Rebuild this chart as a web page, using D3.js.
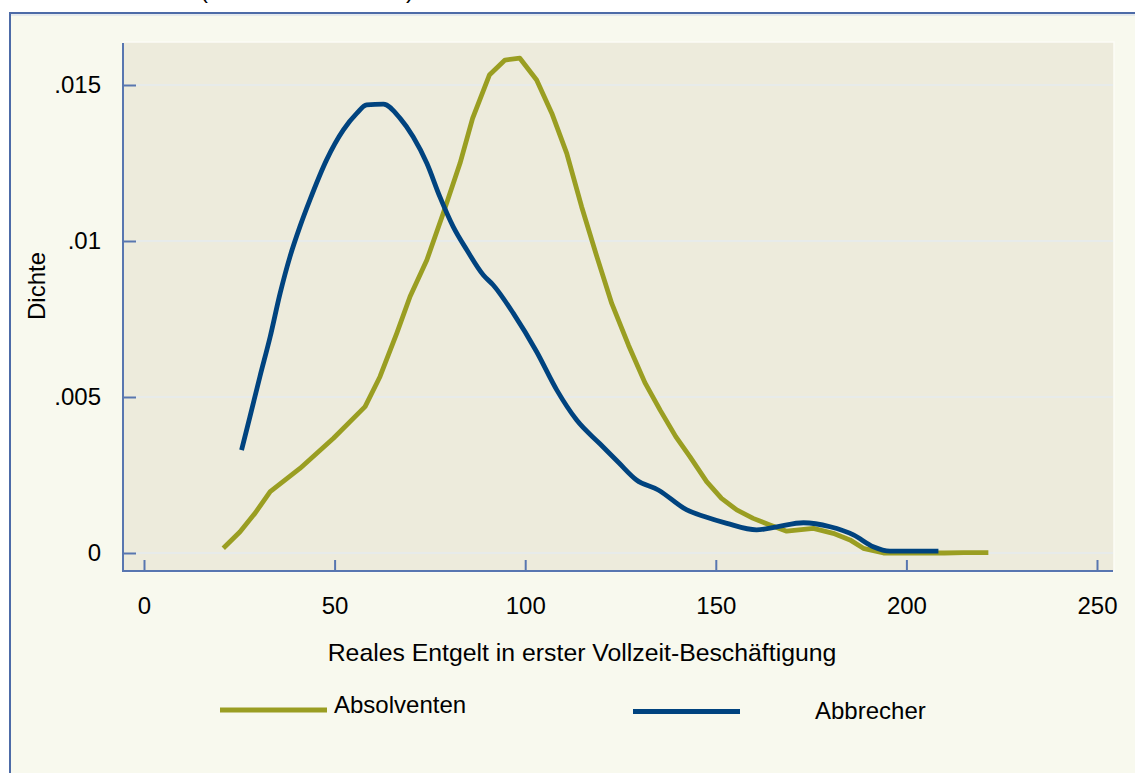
<!DOCTYPE html>
<html>
<head>
<meta charset="utf-8">
<script src="https://cdn.jsdelivr.net/npm/d3@7"></script>
<style>
  body { margin: 0; background: #ffffff; }
  svg { display: block; font-family: "Liberation Sans", Arial, sans-serif; }
</style>
</head>
<body>
<div class="chart"></div>
<script>
// density curves
var absolventenX = [20.8, 25.2, 29.1, 33.1, 40.9, 49.7, 58.0, 61.9, 66.3, 69.8, 74.2, 78.5, 82.9, 86.2, 90.6, 94.7, 98.6, 103.0, 107.0, 110.9, 114.8, 118.8, 122.7, 127.1, 131.4, 135.4, 139.5, 143.2, 147.6, 151.5, 155.5, 159.8, 164.2, 168.6, 175.6, 180.8, 185.2, 188.7, 194.0, 200, 210, 215, 221.5];
var absolventenY = [.00015, .00068, .00127, .00197, .00271, .00368, .00469, .00565, .00704, .00822, .00939, .01089, .01249, .01393, .01532, .0158, .01586, .01516, .01409, .01281, .0111, .0095, .008, .00666, .00546, .00458, .00373, .00309, .00229, .00175, .00138, .00111, .0009, .0007, .00079, .00063, .00042, .00015, 0, 0, 0, .00001, .00001];

var abbrecherX = [25.6, 27.8, 30.4, 33.1, 35.7, 38.3, 40.9, 43.5, 47.9, 52.3, 55.8, 58.4, 62.8, 67.2, 70.6, 74.2, 77.6, 81.1, 84.7, 89.0, 91.6, 96.9, 103.0, 108.3, 113.5, 119.6, 124.5, 129.2, 134.9, 142.4, 147.0, 152.9, 160.7, 166.0, 173.0, 180.0, 186.1, 191.3, 195.7, 208.4];
var abbrecherY = [.0033, .00437, .00565, .00693, .00832, .0095, .01046, .01131, .0126, .01356, .01409, .01436, .01439, .01393, .01334, .01249, .01142, .01046, .00971, .00891, .00859, .00768, .00645, .00522, .00426, .0035, .0029, .00234, .00202, .00138, .00117, .00095, .00074, .00084, .00097, .00084, .00058, .0002, .00006, .00006];

var xTicks = [0, 50, 100, 150, 200, 250];
var yTicks = [0, .005, .01, .015];
var yTickLabels = ["0", ".005", ".01", ".015"];

var seriesNames = ["Absolventen", "Abbrecher"];
var seriesColors = ["#9a9e22", "#00437f"];

var svgWidth = 1135, svgHeight = 773;
var axisColor = "#5876b0";

var svg = d3.select(".chart").append("svg")
    .attr("width", svgWidth)
    .attr("height", svgHeight);

// outer panel
svg.append("rect")
    .attr("x", 10).attr("y", 13)
    .attr("width", svgWidth - 10).attr("height", svgHeight - 13)
    .attr("fill", "#f8f9ee");
svg.append("line")
    .attr("x1", 10).attr("x2", svgWidth).attr("y1", 15).attr("y2", 15)
    .attr("stroke", "#e4e9ec").attr("stroke-width", 2);
svg.append("line")
    .attr("x1", 9).attr("x2", svgWidth).attr("y1", 13).attr("y2", 13)
    .attr("stroke", "#4d6ba7").attr("stroke-width", 2);
svg.append("line")
    .attr("x1", 10).attr("x2", 10).attr("y1", 12).attr("y2", svgHeight)
    .attr("stroke", "#4d6ba7").attr("stroke-width", 2);

// title, cut off at the very top as in the original
svg.append("text").attr("x", 200).attr("y", -2)
    .attr("font-size", 24).text("(");
svg.append("text").attr("x", 406).attr("y", -2)
    .attr("font-size", 24).text(")");

// plot area
var plot = { left: 123, right: 1113, top: 43, bottom: 572 };

svg.append("rect")
    .attr("x", plot.left).attr("y", plot.top - 1)
    .attr("width", plot.right - plot.left + 1).attr("height", plot.bottom - plot.top + 1)
    .attr("fill", "#edebdc")
    .attr("stroke", "#fbfcf6").attr("stroke-width", 1.5);

var x = d3.scaleLinear().domain([0, 250]).range([144, 1097]);
var y = d3.scaleLinear().domain([0, .015]).range([553, 85]);

// grid lines
svg.append("g").selectAll("line")
    .data(yTicks)
    .enter().append("line")
    .attr("x1", plot.left + 13).attr("x2", plot.right)
    .attr("y1", d => y(d)).attr("y2", d => y(d))
    .attr("stroke", "#e7ebea").attr("stroke-width", 2);

// y axis
var yAxis = d3.axisLeft(y).tickValues(yTicks)
    .tickSize(-13).tickPadding(22)
    .tickFormat((d, i) => yTickLabels[i]);
var yG = svg.append("g")
    .attr("transform", `translate(${plot.left}, 0)`)
    .call(yAxis);
yG.select(".domain").remove();
yG.selectAll("line").attr("stroke", axisColor).attr("stroke-width", 2);
yG.selectAll("text").attr("font-size", 24).attr("fill", "#000")
    .attr("font-family", "Liberation Sans, Arial, sans-serif");
svg.append("line")
    .attr("x1", plot.left).attr("x2", plot.left)
    .attr("y1", plot.top).attr("y2", plot.bottom)
    .attr("stroke", axisColor).attr("stroke-width", 2);

// x axis
var xAxis = d3.axisBottom(x).tickValues(xTicks)
    .tickSize(-11).tickPadding(26)
    .tickFormat(d3.format("d"));
var xG = svg.append("g")
    .attr("transform", `translate(0, ${plot.bottom - 1})`)
    .call(xAxis);
xG.select(".domain").remove();
xG.selectAll("line").attr("stroke", axisColor).attr("stroke-width", 2);
xG.selectAll("text").attr("font-size", 24).attr("fill", "#000")
    .attr("font-family", "Liberation Sans, Arial, sans-serif");
svg.append("line")
    .attr("x1", plot.left - 1).attr("x2", plot.right)
    .attr("y1", plot.bottom - 1).attr("y2", plot.bottom - 1)
    .attr("stroke", axisColor).attr("stroke-width", 2);

// axis titles
svg.append("text")
    .attr("transform", "translate(45, 286) rotate(-90)")
    .attr("text-anchor", "middle")
    .attr("font-size", 24)
    .text("Dichte");

svg.append("text")
    .attr("x", 582).attr("y", 661)
    .attr("text-anchor", "middle")
    .attr("font-size", 24.8)
    .text("Reales Entgelt in erster Vollzeit-Beschäftigung");

// lines
var lineOlive = d3.line()
    .x(d => x(d[0]))
    .y(d => y(d[1]));

var lineNavy = d3.line()
    .curve(d3.curveMonotoneX)
    .x(d => x(d[0]))
    .y(d => y(d[1]));

var absolventenData = absolventenX.map((v, i) => [v, absolventenY[i]]);
var abbrecherData = abbrecherX.map((v, i) => [v, abbrecherY[i]]);

svg.append("path")
    .datum(absolventenData)
    .attr("d", lineOlive)
    .attr("fill", "none")
    .attr("stroke", seriesColors[0])
    .attr("stroke-width", 4.8)
    .attr("stroke-linejoin", "round");

svg.append("path")
    .datum(abbrecherData)
    .attr("d", lineNavy)
    .attr("fill", "none")
    .attr("stroke", seriesColors[1])
    .attr("stroke-width", 4.8)
    .attr("stroke-linejoin", "round");

// legend
var legendItems = [
    { x1: 220, x2: 327, ly: 710, tx: 334, ty: 713 },
    { x1: 633, x2: 740, ly: 711.5, tx: 815, ty: 719 }
];
legendItems.forEach(function (d, i) {
    svg.append("line")
        .attr("x1", d.x1).attr("x2", d.x2)
        .attr("y1", d.ly).attr("y2", d.ly)
        .attr("stroke", seriesColors[i]).attr("stroke-width", 5);
    svg.append("text")
        .attr("x", d.tx).attr("y", d.ty)
        .attr("font-size", 24)
        .text(seriesNames[i]);
});
</script>
</body>
</html>
